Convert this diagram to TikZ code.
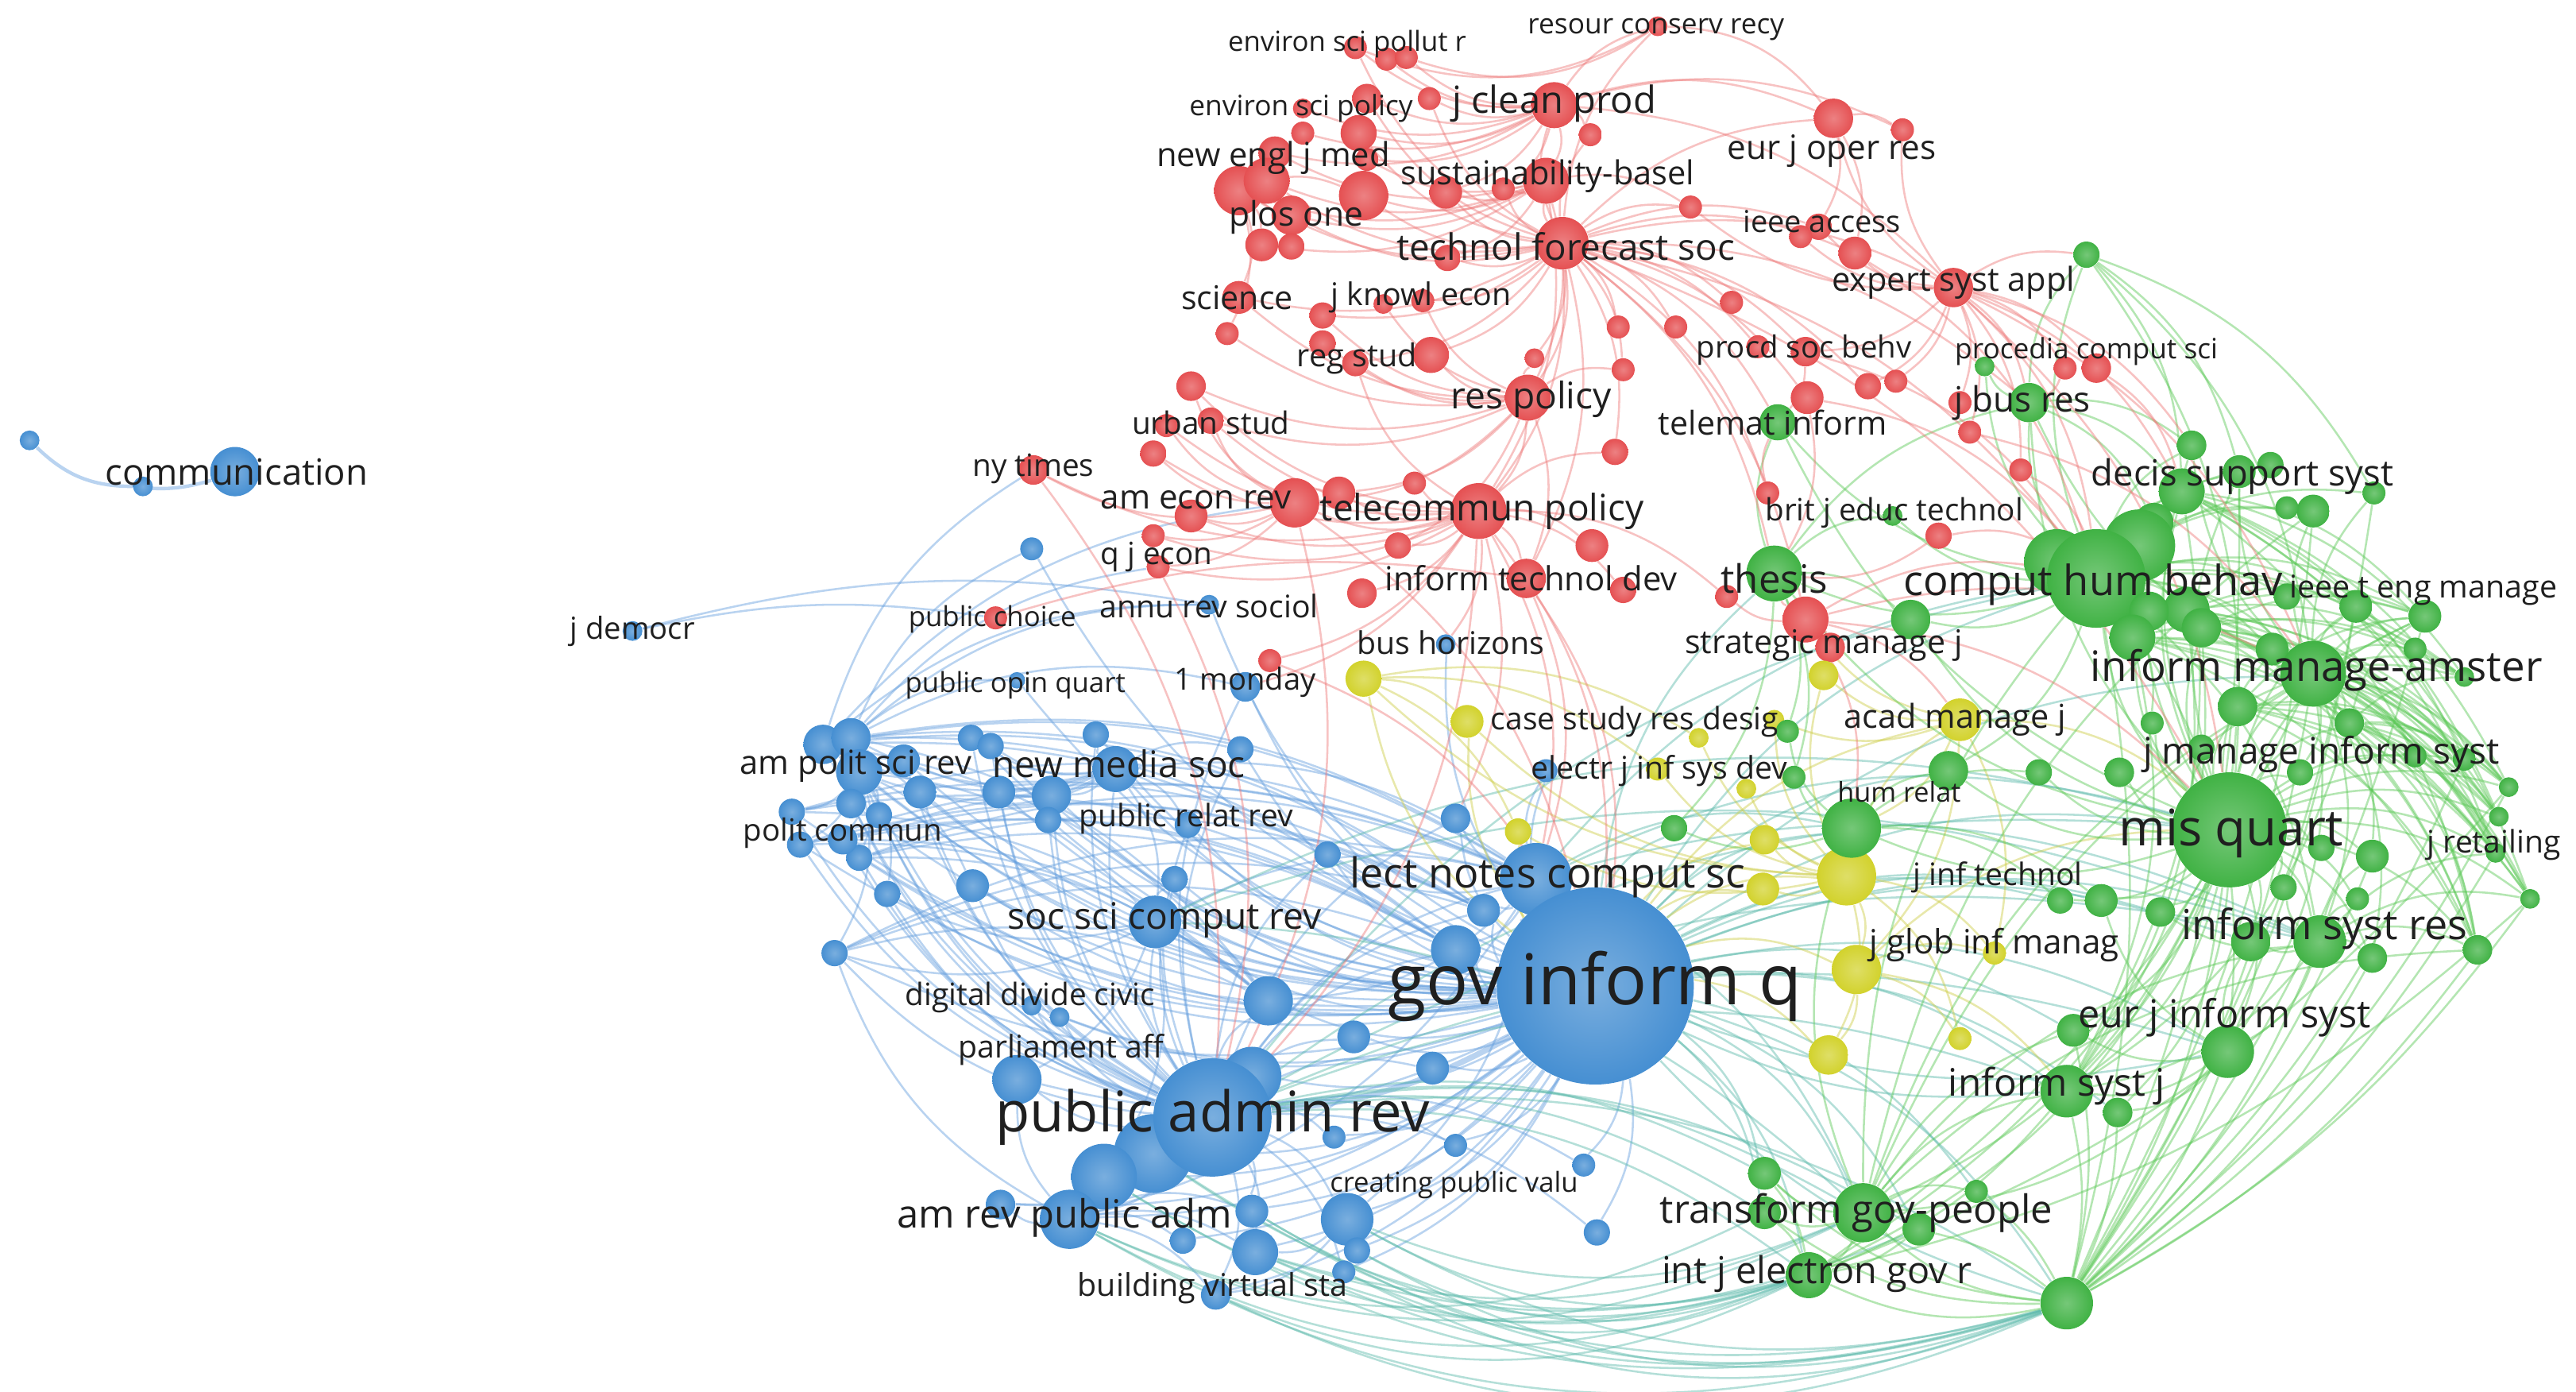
\documentclass[tikz,border=0pt]{standalone}
\usepackage{fontspec}
\setmainfont{Open Sans}
\usepackage{graphicx}
\pgfdeclarelayer{bg}
\pgfdeclarelayer{edges}
\pgfsetlayers{bg,edges,main}
\definecolor{cr}{RGB}{229,80,82}
\definecolor{cb}{RGB}{70,143,210}
\definecolor{cg}{RGB}{64,178,68}
\definecolor{cy}{RGB}{210,210,44}
\definecolor{er}{RGB}{238,120,120}
\definecolor{eb}{RGB}{100,158,222}
\definecolor{eg}{RGB}{90,200,85}
\definecolor{ey}{RGB}{205,205,70}
\definecolor{et}{RGB}{90,185,170}
\newlength\lbunit
\setlength\lbunit{0.02cm}
\tikzset{
  dot/.style={circle,inner sep=0pt,minimum size=#1*0.04cm,draw=none},
  R/.style={dot=#1,inner color=cr!72!white,outer color=cr},
  B/.style={dot=#1,inner color=cb!72!white,outer color=cb},
  G/.style={dot=#1,inner color=cg!72!white,outer color=cg},
  Y/.style={dot=#1,inner color=cy!72!white,outer color=cy},
  lbl/.style={inner sep=0pt,text=black!88},
  edge/.style={line width=0.7pt,draw opacity=0.45},
  ER/.style={edge,draw=er},
  EB/.style={edge,draw=eb},
  EG/.style={edge,draw=eg},
  EY/.style={edge,draw=ey},
  ET/.style={edge,draw=et},
  cv/.style={bend left=20}
}
\newcommand\Lb[5]{\node[lbl] (#1) at (#2,#3) {\resizebox{#4\lbunit}{!}{#5}};}
\begin{document}
\begin{tikzpicture}[x=0.02cm,y=-0.02cm]
\useasboundingbox (0,0) rectangle (1568,847);
\begin{pgfonlayer}{bg}
\fill[white] (0,0) rectangle (1568,847);
\end{pgfonlayer}
% ---------------- blue circles
\node[B=6] (b1) at (18,268) {};
\node[B=6] (b2) at (87,296) {};
\node[B=15] (comm) at (143,287) {};
\node[B=6] (jdem) at (385,384) {};
\node[B=7] (b3) at (628,334) {};
\node[B=6] (annu) at (736,368) {};
\node[B=5] (pubop) at (619,414) {};
\node[B=9] (mon) at (758,418) {};
\node[B=6] (bush) at (880,392) {};
\node[B=12] (b4) at (501,453) {};
\node[B=12] (b5) at (518,449) {};
\node[B=14] (b6) at (523,470) {};
\node[B=10] (b7) at (550,463) {};
\node[B=10] (b8) at (560,482) {};
\node[B=8] (b9) at (482,494) {};
\node[B=9] (b10) at (518,489) {};
\node[B=8] (b11) at (535,496) {};
\node[B=8] (b12) at (523,522) {};
\node[B=8] (b13) at (487,514) {};
\node[B=9] (b14) at (513,511) {};
\node[B=8] (b15) at (591,449) {};
\node[B=8] (b16) at (603,454) {};
\node[B=10] (b17) at (608,482) {};
\node[B=12] (b18) at (640,484) {};
\node[B=8] (b19) at (638,499) {};
\node[B=8] (b20) at (667,447) {};
\node[B=14] (nms) at (679,468) {};
\node[B=8] (b21) at (755,456) {};
\node[B=8] (prr) at (723,502) {};
\node[B=8] (b22) at (808,520) {};
\node[B=10] (b23) at (592,539) {};
\node[B=8] (b24) at (540,544) {};
\node[B=8] (b25) at (715,535) {};
\node[B=16] (sscr) at (703,561) {};
\node[B=8] (b26) at (508,580) {};
\node[B=9] (b27) at (886,498) {};
\node[B=10] (b28) at (903,554) {};
\node[B=22] (lncs) at (935,535) {};
\node[B=15] (b29) at (886,578) {};
\node[B=15] (b31) at (772,609) {};
\node[B=6] (b32) at (628,612) {};
\node[B=6] (b33) at (645,619) {};
\node[B=10] (b34) at (824,631) {};
\node[B=15] (b35) at (619,657) {};
\node[B=24] (b36) at (702,702) {};
\node[B=18] (b37) at (762,655) {};
\node[B=36] (par) at (738,680) {};
\node[B=10] (b38) at (872,650) {};
\node[B=7] (b39) at (812,692) {};
\node[B=7] (b40) at (886,697) {};
\node[B=7] (b41) at (964,709) {};
\node[B=20] (b42) at (672,716) {};
\node[B=18] (arpa) at (651,742) {};
\node[B=9] (b43) at (609,733) {};
\node[B=10] (b44) at (762,737) {};
\node[B=8] (b45) at (720,755) {};
\node[B=14] (b46) at (764,762) {};
\node[B=16] (b47) at (820,742) {};
\node[B=8] (b48) at (826,761) {};
\node[B=7] (b49) at (818,774) {};
\node[B=9] (bvs) at (740,788) {};
\node[B=8] (b50) at (972,750) {};
\node[B=7] (b51) at (941,469) {};
\node[B=60] (gov) at (971,600) {};
% ---------------- red circles
\node[R=7] (r1) at (825,29) {};
\node[R=7] (r2) at (844,36) {};
\node[R=7] (r3) at (856,35) {};
\node[R=6] (rcr) at (1009,16) {};
\node[R=9] (r4) at (832,60) {};
\node[R=7] (r5) at (870,60) {};
\node[R=14] (jcp) at (946,64) {};
\node[R=6] (r6) at (793,66) {};
\node[R=7] (r7) at (793,81) {};
\node[R=11] (r8) at (827,81) {};
\node[R=7] (r9) at (968,82) {};
\node[R=12] (ejor) at (1116,72) {};
\node[R=7] (r10) at (1158,79) {};
\node[R=10] (r11) at (776,93) {};
\node[R=7] (r12) at (832,97) {};
\node[R=15] (r13) at (754,116) {};
\node[R=14] (r14) at (771,110) {};
\node[R=15] (r15) at (830,119) {};
\node[R=12] (r16) at (786,131) {};
\node[R=10] (r17) at (768,149) {};
\node[R=8] (r18) at (786,150) {};
\node[R=10] (r19) at (880,117) {};
\node[R=7] (r20) at (915,115) {};
\node[R=14] (sus) at (941,110) {};
\node[R=7] (r21) at (1029,126) {};
\node[R=16] (tfs) at (951,148) {};
\node[R=8] (r22) at (881,157) {};
\node[R=8] (ieee) at (1107,138) {};
\node[R=7] (r23) at (1096,144) {};
\node[R=10] (r24) at (1129,154) {};
\node[R=12] (esa) at (1189,175) {};
\node[R=10] (sci) at (754,181) {};
\node[R=7] (r25) at (747,203) {};
\node[R=8] (r26) at (805,192) {};
\node[R=6] (r27) at (842,185) {};
\node[R=7] (r28) at (866,183) {};
\node[R=8] (r29) at (805,209) {};
\node[R=8] (rs) at (825,221) {};
\node[R=11] (r30) at (871,216) {};
\node[R=7] (r31) at (1054,184) {};
\node[R=7] (r32) at (985,199) {};
\node[R=7] (r33) at (1020,199) {};
\node[R=6] (r34) at (934,218) {};
\node[R=7] (r35) at (988,225) {};
\node[R=14] (rp) at (930,242) {};
\node[R=7] (r36) at (1070,211) {};
\node[R=9] (psb) at (1099,214) {};
\node[R=8] (r37) at (1137,235) {};
\node[R=7] (r38) at (1154,232) {};
\node[R=7] (r39) at (1257,224) {};
\node[R=9] (r40) at (1276,224) {};
\node[R=10] (r41) at (1100,242) {};
\node[R=7] (r42) at (1193,245) {};
\node[R=7] (r43) at (1199,263) {};
\node[R=7] (r44) at (1230,286) {};
\node[R=9] (r45) at (725,235) {};
\node[R=8] (us) at (737,256) {};
\node[R=7] (r46) at (710,259) {};
\node[R=8] (r47) at (702,276) {};
\node[R=9] (nyt) at (629,286) {};
\node[R=15] (aer) at (788,306) {};
\node[R=10] (r48) at (725,314) {};
\node[R=10] (r49) at (815,300) {};
\node[R=7] (r50) at (861,294) {};
\node[R=17] (tp) at (900,311) {};
\node[R=8] (r51) at (983,275) {};
\node[R=10] (r52) at (969,332) {};
\node[R=8] (r53) at (851,332) {};
\node[R=7] (r54) at (702,326) {};
\node[R=7] (qje) at (705,345) {};
\node[R=9] (r55) at (829,361) {};
\node[R=12] (itd) at (929,352) {};
\node[R=8] (r56) at (988,359) {};
\node[R=7] (r57) at (1076,300) {};
\node[R=7] (r58) at (1051,363) {};
\node[R=14] (smj) at (1099,377) {};
\node[R=9] (r59) at (1114,394) {};
\node[R=8] (r60) at (1180,326) {};
\node[R=7] (r61) at (773,402) {};
\node[R=7] (pubch) at (606,376) {};
% ---------------- yellow circles
\node[Y=11] (y1) at (830,413) {};
\node[Y=10] (y2) at (893,439) {};
\node[Y=9] (y3) at (1110,411) {};
\node[Y=6] (y4) at (1080,438) {};
\node[Y=6] (y5) at (1034,449) {};
\node[Y=7] (y6) at (1009,468) {};
\node[Y=6] (y7) at (1063,480) {};
\node[Y=8] (y8) at (924,506) {};
\node[Y=13] (amj) at (1193,438) {};
\node[Y=9] (y9) at (1074,511) {};
\node[Y=10] (y10) at (1073,541) {};
\node[Y=18] (y11) at (1124,533) {};
\node[Y=15] (y12) at (1130,590) {};
\node[Y=12] (y13) at (1113,642) {};
\node[Y=7] (y14) at (1193,632) {};
\node[Y=7] (y15) at (1214,580) {};
% ---------------- green circles
\node[G=8] (g1) at (1270,155) {};
\node[G=6] (g2) at (1208,223) {};
\node[G=12] (jbr) at (1235,245) {};
\node[G=11] (ti) at (1082,257) {};
\node[G=9] (g3) at (1334,271) {};
\node[G=10] (g4) at (1363,287) {};
\node[G=8] (g5) at (1382,283) {};
\node[G=10] (g6) at (1408,311) {};
\node[G=7] (g7) at (1392,309) {};
\node[G=7] (g8) at (1445,300) {};
\node[G=14] (g9) at (1328,299) {};
\node[G=12] (g10) at (1311,318) {};
\node[G=20] (g60) at (1252,342) {};
\node[G=22] (g61) at (1302,332) {};
\node[G=30] (chb) at (1276,352) {};
\node[G=17] (thes) at (1080,349) {};
\node[G=12] (g11) at (1163,377) {};
\node[G=10] (g12) at (1434,369) {};
\node[G=10] (g13) at (1476,375) {};
\node[G=14] (g14) at (1331,371) {};
\node[G=8] (g15) at (1392,363) {};
\node[G=12] (g16) at (1308,372) {};
\node[G=6] (g17) at (1152,314) {};
\node[G=7] (g18) at (1088,445) {};
\node[G=7] (g19) at (1092,473) {};
\node[G=18] (hr) at (1127,504) {};
\node[G=8] (g20) at (1019,504) {};
\node[G=12] (g22) at (1186,469) {};
\node[G=8] (g23) at (1241,470) {};
\node[G=14] (g44) at (1298,388) {};
\node[G=12] (g45) at (1340,382) {};
\node[G=10] (g46) at (1383,395) {};
\node[G=20] (ima) at (1408,410) {};
\node[G=7] (g48) at (1470,395) {};
\node[G=6] (g49) at (1500,412) {};
\node[G=9] (g50) at (1430,440) {};
\node[G=7] (g51) at (1470,460) {};
\node[G=7] (g52) at (1500,462) {};
\node[G=7] (g53) at (1310,440) {};
\node[G=8] (g54) at (1340,455) {};
\node[G=12] (g55) at (1362,430) {};
\node[G=9] (g56) at (1290,470) {};
\node[G=8] (g57) at (1400,470) {};
\node[G=35] (misq) at (1357,505) {};
\node[G=8] (g25) at (1413,516) {};
\node[G=10] (g26) at (1279,548) {};
\node[G=8] (g27) at (1254,548) {};
\node[G=12] (g28) at (1370,573) {};
\node[G=16] (isr) at (1412,573) {};
\node[G=9] (g29) at (1444,583) {};
\node[G=9] (g30) at (1508,578) {};
\node[G=6] (g31) at (1540,547) {};
\node[G=7] (g32) at (1435,547) {};
\node[G=10] (g33) at (1444,521) {};
\node[G=6] (g34) at (1519,519) {};
\node[G=6] (g35) at (1521,497) {};
\node[G=6] (g36) at (1527,479) {};
\node[G=8] (g58) at (1390,540) {};
\node[G=9] (g59) at (1315,555) {};
\node[G=16] (ejis) at (1356,640) {};
\node[G=10] (g38) at (1262,627) {};
\node[G=16] (isj) at (1258,664) {};
\node[G=9] (g39) at (1289,677) {};
\node[G=10] (g40) at (1074,714) {};
\node[G=10] (g41) at (1074,738) {};
\node[G=18] (tgp) at (1134,738) {};
\node[G=10] (g42) at (1168,748) {};
\node[G=7] (g43) at (1203,725) {};
\node[G=14] (ijegr) at (1101,776) {};
\node[G=16] (gbig) at (1258,793) {};
% ---------------- edges
\begin{pgfonlayer}{edges}
\draw[EB,line width=1.2pt] (b1) to[bend right=22] (b2) to[bend right=12] (comm);
\draw[EB] (jdem) to[bend left=10] (pubch);
\draw[EB] (jdem) to[bend left=12] (annu);
\foreach \t in {lncs,sscr,nms,b4,b5,b6,b7,b8,b10,b15,b16,b17,b18,prr,b22,b23,b24,b26,b27,b28,b29,b31,b34,b35,b36,b37,b38,b42,arpa,b44,b46,b47,bvs,b50,mon,bush,annu,pubop,b12,b14,b9,b13,b20,b21,b25,b19,b32,b33,b43,b45,b48,b49,b39,b40,b41,b51,b3}
  \draw[EB] (gov) to[cv] (\t);
\draw[EB,line width=2pt] (gov) to[bend left=12] (par);
\foreach \t in {b4,b5,b6,b7,b8,b9,b10,b11,b12,b13,b14,b15,b16,b17,b18,b19,b20,nms,b21,prr,b22,b23,b24,b25,sscr,b26,b27,b28,lncs,b29,b31,b32,b33,b34,b35,b38,b42,arpa,b43,b44,b46,b47,bvs,b50,mon,b40,b41,b39,b49}
  \draw[EB] (par) to[cv] (\t);
\foreach \t in {b4,b5,b6,b17,b18,sscr,prr,b15,b16,b20,b21,lncs,b8,b7}
  \draw[EB] (nms) to[cv] (\t);
\foreach \t in {b9,b13,b14,b12,b10,b11,b7,sscr,b26,b24,b23}
  \draw[EB] (b6) to[cv] (\t);
\foreach \s in {b4,b9,b12,b13,b14,b26,b5}
  \foreach \t in {lncs,b29,b31,b28}
    \draw[EB] (\s) to[cv] (\t);
\foreach \t in {b23,b31,b24,b25,lncs,b35,b42,b26}
  \draw[EB] (sscr) to[cv] (\t);
\foreach \t in {b27,b28,b29,b22,b51,arpa,b47,b31}
  \draw[EB] (lncs) to[cv] (\t);
\foreach \t in {b42,b43,b44,b46,b35,bvs,b45,b26}
  \draw[EB] (arpa) to[cv] (\t);
\foreach \t in {b48,b49,bvs,b46}
  \draw[EB] (b47) to[cv] (\t);
\foreach \t in {qje,annu,mon,pubop,b3}
  \draw[EB] (b5) to[cv] (\t);
\foreach \t in {annu,nyt,aer}
  \draw[EB] (b4) to[cv] (\t);
% teal: blue <-> green
\foreach \t in {misq,isr,ejis,isj,tgp,ijegr,gbig,chb,ima,hr,thes,g40,g41,g42,g38,g26,g27,g28,g22,g20,g39,g43,g59}
  \draw[ET] (gov) to[cv] (\t);
\foreach \t in {tgp,ijegr,gbig,misq,isr,ejis,g40,g41,isj,chb,g42}
  \draw[ET] (par) to[cv] (\t);
\foreach \t in {gbig,ijegr,tgp,g41}
  \draw[ET] (arpa) to[bend right=25] (\t);
\foreach \t in {gbig,tgp,ijegr,g42}
  \draw[ET] (b46) to[bend right=20] (\t);
\foreach \t in {gbig,ijegr,tgp}
  \draw[ET] (b47) to[bend right=22] (\t);
\foreach \s in {bvs,b48,b49,b44,b42,b36}
  \foreach \t in {gbig,ijegr}
    \draw[ET] (\s) to[bend right=24] (\t);
\foreach \t in {gbig,isj,ejis}
  \draw[ET] (gov) to[bend right=15] (\t);
\foreach \t in {misq,chb,isr,tgp,hr}
  \draw[ET] (lncs) to[cv] (\t);
\foreach \t in {misq,tgp,isr}
  \draw[ET] (sscr) to[cv] (\t);
% yellow
\foreach \t in {y1,y2,y8,y9,y10,y11,y12,y13,amj}
  \draw[EY] (gov) to[cv] (\t);
\foreach \t in {hr,amj,y12,y13,y10,y9,y1,y2,y8,y14,y15,y3,y7,y6,y4,y5}
  \draw[EY] (y11) to[cv] (\t);
\foreach \t in {y3,y12,smj,misq,y15,hr,y4}
  \draw[EY] (amj) to[cv] (\t);
\foreach \t in {y2,y8,y6,y5}
  \draw[EY] (y1) to[cv] (\t);
\foreach \t in {y13,y14,y15,isj,misq}
  \draw[EY] (y12) to[cv] (\t);
% green
\foreach \t in {chb,ima,isr,ejis,isj,g25,g26,g27,g28,g29,g30,g31,g32,g33,g34,g35,g36,g22,g23,hr,g44,g45,g46,g50,g51,g52,g53,g54,g55,g56,g57,g58,g59,g38,g39,jbr,ti,g3,g4,g9,g10,tgp,ijegr,thes,g11,g12,g13}
  \draw[EG] (misq) to[cv] (\t);
\foreach \t in {g3,g4,g5,g6,g7,g8,g9,g10,g12,g13,g14,g15,g16,ima,jbr,ti,thes,g1,g2,g11,g17,g44,g45,g46,g48,g49,isr,ejis,g22,g53}
  \draw[EG] (chb) to[cv] (\t);
\foreach \t in {g12,g13,g48,g49,g50,g51,g52,isr,ejis,g6,g8,g33,g34,g35,g36,g30,g29,g57,jbr,g4,g3}
  \draw[EG] (ima) to[cv] (\t);
\foreach \t in {ejis,g29,g30,g31,g32,g33,isj,g28,g58,g59,g34}
  \draw[EG] (isr) to[cv] (\t);
\foreach \s in {g44,g45,g55,g50,g9,g14}
  \foreach \t in {g30,g31,g34,g35,g36,g49,g52,g13,isj}
    \draw[EG] (\s) to[cv] (\t);
\foreach \t in {isj,g38,g39,g28,tgp,g26}
  \draw[EG] (ejis) to[cv] (\t);
\foreach \t in {misq,isr,ejis,isj,ima,chb,g30,g31,g34,g33,g29,g36,g39,g38,g42,g43,g13,g52,g4,g6,g8,g12}
  \draw[EG] (gbig) to[bend right=12] (\t);
\foreach \t in {tgp,ijegr,g40,g41}
  \draw[EG] (gbig) to[bend left=18] (\t);
\foreach \t in {isj,ijegr,g40,g41,g42,g43,chb,ima,g38,hr,isr,g30,g13,g6}
  \draw[EG] (tgp) to[cv] (\t);
\foreach \t in {g40,g41,g42,isj,misq,ima,g31,g36}
  \draw[EG] (ijegr) to[bend right=14] (\t);
\foreach \t in {g22,g23,g20,g18,g19,g26,g27}
  \draw[EG] (hr) to[cv] (\t);
\foreach \t in {ti,g17,g11,jbr,g18,g19,g20}
  \draw[EG] (thes) to[cv] (\t);
\foreach \t in {g2,g1,g9,g10,g3}
  \draw[EG] (jbr) to[cv] (\t);
\foreach \t in {ima,misq,g4,g9,g8}
  \draw[EG] (g1) to[cv] (\t);
% red
\foreach \t in {jcp,sus,rp,tp,r19,r20,r21,r22,r13,r14,r15,r16,sci,esa,ejor,ieee,r24,rs,r30,r28,r32,r33,r35,r31,psb,itd,r51,r57,smj,r9,r8,r4,rcr,r1,r5,r34,r37,r41,r26,r36}
  \draw[ER] (tfs) to[cv] (\t);
\foreach \t in {sus,r4,r5,r8,r9,ejor,rcr,r1,r2,r3,r6,r7,r11,r12,r19,r20,r10,esa}
  \draw[ER] (jcp) to[cv] (\t);
\foreach \t in {r13,r14,r15,r16,r19,r20,r11,r12,rp,r21,r22,r17,tp}
  \draw[ER] (sus) to[cv] (\t);
\foreach \t in {r30,rs,r29,r26,r27,r28,r34,r35,us,r45,aer,r49,r53,tp,itd,sci,r25}
  \draw[ER] (rp) to[cv] (\t);
\foreach \t in {aer,qje,r48,r49,r50,r53,r52,itd,r54,r55,r45,us,nyt,r47,r61,r56,r58,r51,r46,rs}
  \draw[ER] (tp) to[cv] (\t);
\foreach \t in {sci,r17,r18,r11,r14,r16,r15,r25}
  \draw[ER] (r13) to[cv] (\t);
\foreach \t in {ejor,ieee,r24,r23,psb,r37,r38,r39,r40,r42,r43,r44,r10,r21}
  \draw[ER] (esa) to[cv] (\t);
\foreach \t in {qje,r48,r54,nyt,r47,r46,r45,us,r49}
  \draw[ER] (aer) to[cv] (\t);
\foreach \t in {r1,ejor,r3}
  \draw[ER] (rcr) to[bend left=25] (\t);
\foreach \t in {r10,r24,ieee}
  \draw[ER] (ejor) to[cv] (\t);
\foreach \t in {jbr,g1,chb,g9,ima,misq,g3}
  \draw[ER] (esa) to[cv] (\t);
\foreach \t in {chb,thes,misq,ti,jbr}
  \draw[ER] (tfs) to[cv] (\t);
\foreach \t in {r59,r58,amj,thes,misq,chb,hr,ima}
  \draw[ER] (smj) to[cv] (\t);
\foreach \t in {gov,lncs,par,b27,bush,mon}
  \draw[ER] (tp) to[cv] (\t);
\foreach \t in {gov,lncs}
  \draw[ER] (itd) to[cv] (\t);
\foreach \t in {gov,par}
  \draw[ER] (aer) to[cv] (\t);
\draw[ER] (qje) to[cv] (par);
\draw[ER] (nyt) to[cv] (par);
\draw[ER] (r61) to[cv] (gov);
\draw[ER] (pubch) to[bend left=12] (itd);
\draw[ER] (r24) to[cv] (chb);
\draw[ER] (psb) to[cv] (chb);
\draw[ER] (psb) to[cv] (ti);
\draw[ER] (r44) to[cv] (chb);
\draw[ER] (r60) to[cv] (chb);
\draw[ER] (r60) to[cv] (thes);
\draw[ER] (r40) to[cv] (g9);
\draw[ER] (r39) to[cv] (jbr);
\draw[ER] (r43) to[cv] (ima);
\draw[ER] (r57) to[cv] (ti);
\draw[ER] (r41) to[cv] (thes);
\draw[ER] (r41) to[cv] (chb);
\end{pgfonlayer}
% ---------------- labels
\Lb{Lcomm}{144}{287}{160}{communication}
\Lb{Ljdem}{385}{384}{76}{j democr}
\Lb{Lpubch}{604}{377}{102}{public choice}
\Lb{Lpubop}{618}{417}{134}{public opin quart}
\Lb{Lmon}{758}{415}{86}{1 monday}
\Lb{Lannu}{736}{369}{133}{annu rev sociol}
\Lb{Lbush}{883}{391}{114}{bus horizons}
\Lb{Laps}{521}{466}{141}{am polit sci rev}
\Lb{Lnms}{681}{465}{154}{new media soc}
\Lb{Lprr}{722}{498}{130}{public relat rev}
\Lb{Lpc}{513}{507}{121}{polit commun}
\Lb{Llncs}{942}{534}{241}{lect notes comput sc}
\Lb{Lsscr}{709}{560}{191}{soc sci comput rev}
\Lb{Lddc}{627}{607}{152}{digital divide civic}
\Lb{Lpaff}{646}{639}{125}{parliament aff}
\Lb{Lgov}{971}{600}{252}{gov inform q}
\Lb{Lpar}{738}{680}{264}{public admin rev}
\Lb{Larpa}{648}{741}{204}{am rev public adm}
\Lb{Lcpv}{885}{721}{151}{creating public valu}
\Lb{Lbvs}{738}{784}{164}{building virtual sta}
\Lb{Lespr}{820}{27}{145}{environ sci pollut r}
\Lb{Lrcr}{1008}{18}{156}{resour conserv recy}
\Lb{Lesp}{792}{66}{136}{environ sci policy}
\Lb{Ljcp}{946}{63}{124}{j clean prod}
\Lb{Lnejm}{775}{96}{142}{new engl j med}
\Lb{Lsus}{942}{107}{179}{sustainability-basel}
\Lb{Lejor}{1115}{92}{127}{eur j oper res}
\Lb{Lplos}{789}{132}{82}{plos one}
\Lb{Lieee}{1109}{135}{96}{ieee access}
\Lb{Ltfs}{953}{150}{206}{technol forecast soc}
\Lb{Lesa}{1189}{172}{148}{expert syst appl}
\Lb{Lsci}{753}{181}{68}{science}
\Lb{Ljke}{865}{181}{110}{j knowl econ}
\Lb{Lrs}{826}{218}{73}{reg stud}
\Lb{Lpsb}{1098}{213}{131}{procd soc behv}
\Lb{Lpcs}{1270}{214}{160}{procedia comput sci}
\Lb{Lrp}{932}{243}{98}{res policy}
\Lb{Ljbr}{1231}{245}{83}{j bus res}
\Lb{Lti}{1079}{257}{139}{telemat inform}
\Lb{Lus}{737}{257}{96}{urban stud}
\Lb{Lnyt}{629}{285}{74}{ny times}
\Lb{Laer}{728}{304}{116}{am econ rev}
\Lb{Ltp}{902}{311}{197}{telecommun policy}
\Lb{Lbjet}{1153}{312}{157}{brit j educ technol}
\Lb{Lqje}{704}{339}{68}{q j econ}
\Lb{Litd}{932}{352}{178}{inform technol dev}
\Lb{Ldss}{1365}{290}{184}{decis support syst}
\Lb{Lchb}{1274}{356}{231}{comput hum behav}
\Lb{Litem}{1475}{359}{163}{ieee t eng manage}
\Lb{Lthes}{1080}{352}{65}{thesis}
\Lb{Lsmj}{1110}{393}{169}{strategic manage j}
\Lb{Lima}{1410}{408}{275}{inform manage-amster}
\Lb{Lamj}{1190}{438}{135}{acad manage j}
\Lb{Ljmis}{1413}{459}{217}{j manage inform syst}
\Lb{Lhr}{1156}{482}{75}{hum relat}
\Lb{Lmisq}{1358}{507}{137}{mis quart}
\Lb{Ljret}{1518}{514}{81}{j retailing}
\Lb{Ljit}{1216}{534}{103}{j inf technol}
\Lb{Lisr}{1415}{565}{174}{inform syst res}
\Lb{Ljgim}{1214}{575}{152}{j glob inf manag}
\Lb{Lejis}{1354}{619}{178}{eur j inform syst}
\Lb{Lisj}{1252}{661}{132}{inform syst j}
\Lb{Ltgp}{1130}{738}{239}{transform gov-people}
\Lb{Lijegr}{1106}{775}{189}{int j electron gov r}
\Lb{Lcsrd}{995}{439}{175}{case study res desig}
\Lb{Lejisd}{1010}{469}{156}{electr j inf sys dev}
\end{tikzpicture}
\end{document}
